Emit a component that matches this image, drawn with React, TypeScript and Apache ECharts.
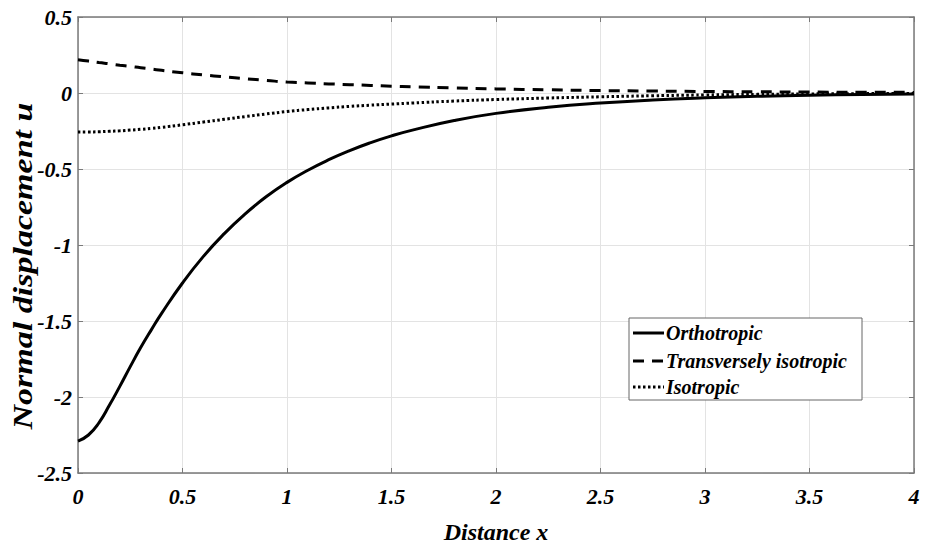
import React, { useEffect, useRef } from "react";
import * as echarts from "echarts";

const xs = [0, 0.05, 0.1, 0.15, 0.2, 0.25, 0.3, 0.35, 0.4, 0.5, 0.6, 0.7, 0.8, 0.9, 1.0, 1.1, 1.2, 1.3, 1.4, 1.5, 1.6, 1.8, 2.0, 2.25, 2.5, 2.75, 3.0, 3.25, 3.5, 3.75, 4.0];
const orthotropic = [-2.29, -2.25, -2.17, -2.055, -1.93, -1.8, -1.675, -1.56, -1.45, -1.25, -1.075, -0.925, -0.795, -0.683, -0.588, -0.508, -0.439, -0.379, -0.327, -0.282, -0.244, -0.181, -0.134, -0.094, -0.066, -0.046, -0.032, -0.022, -0.015, -0.01, -0.007];
const transverse = [0.219, 0.21, 0.2, 0.192, 0.183, 0.175, 0.166, 0.158, 0.149, 0.133, 0.119, 0.106, 0.094, 0.083, 0.072, 0.066, 0.06, 0.055, 0.05, 0.045, 0.041, 0.033, 0.027, 0.021, 0.016, 0.013, 0.01, 0.008, 0.006, 0.005, 0.004];
const isotropic = [-0.256, -0.256, -0.255, -0.252, -0.249, -0.244, -0.239, -0.233, -0.226, -0.209, -0.191, -0.173, -0.155, -0.138, -0.122, -0.109, -0.098, -0.088, -0.08, -0.073, -0.066, -0.053, -0.043, -0.033, -0.025, -0.018, -0.013, -0.009, -0.006, -0.004, -0.003];
const seriesNames = ["Orthotropic", "Transversely isotropic", "Isotropic"];
const yAxisTitle = "Normal displacement u";
const xAxisTitle = "Distance x";

const FONT = "'Liberation Serif', 'Times New Roman', Times, serif";

export default function App() {
  const ref = useRef<HTMLDivElement>(null);
  useEffect(() => {
    if (!ref.current) return;
    const chart = echarts.init(ref.current, null, { renderer: "svg" });
    const pair = (ys: number[]) => xs.map((x, i) => [x, ys[i]]);
    const labelStyle = {
      fontFamily: FONT,
      fontWeight: "bold" as const,
      fontStyle: "italic" as const,
      color: "#000",
      fontSize: 22,
    };
    const axisLine = { show: true, onZero: false, lineStyle: { color: "#7a7a7a", width: 1.5 } };
    const tick = { show: true, inside: true, length: 5, lineStyle: { color: "#7a7a7a", width: 1 } };
    const split = { show: true, lineStyle: { color: "#e3e3e3", width: 1 } };
    const dashes: (number[] | null)[] = [null, [11, 8], [2.5, 2.5]];
    const legendX = 629;
    const legendY = 318;
    const rowYs = [333, 361, 387];
    const legendGraphics: any[] = [
      {
        type: "rect",
        shape: { x: legendX, y: legendY, width: 233, height: 82 },
        style: { fill: "#fff", stroke: "#666", lineWidth: 1 },
        z: 100,
      },
    ];
    seriesNames.forEach((n, i) => {
      legendGraphics.push({
        type: "line",
        shape: { x1: 633, y1: rowYs[i], x2: 664, y2: rowYs[i] },
        style: { stroke: "#000", lineWidth: 3, lineDash: dashes[i] || undefined },
        z: 101,
      });
      legendGraphics.push({
        type: "text",
        x: 666,
        y: rowYs[i],
        style: {
          text: n,
          fontFamily: FONT,
          fontWeight: "bold",
          fontStyle: "italic",
          fontSize: 20,
          fill: "#000",
          textAlign: "left",
          textVerticalAlign: "middle",
        },
        z: 101,
      });
    });
    chart.setOption({
      animation: false,
      backgroundColor: "#fff",
      grid: { left: 78, right: 21, top: 17, bottom: 69, containLabel: false },
      graphic: [
        ...legendGraphics,
        {
          type: "text",
          x: 23,
          y: 266,
          rotation: Math.PI / 2,
          scaleX: 1.26,
          style: {
            text: yAxisTitle,
            fontFamily: FONT,
            fontWeight: "bold",
            fontStyle: "italic",
            fontSize: 27,
            fill: "#000",
            textAlign: "center",
            textVerticalAlign: "middle",
          },
        },
      ],
      xAxis: [
        {
          type: "value",
          min: 0,
          max: 4,
          interval: 0.5,
          name: xAxisTitle,
          nameLocation: "middle",
          nameGap: 47,
          nameTextStyle: { ...labelStyle, fontSize: 24 },
          axisLine,
          axisTick: tick,
          splitLine: split,
          axisLabel: { ...labelStyle, margin: 12 },
        },
        {
          type: "value",
          position: "top",
          min: 0,
          max: 4,
          interval: 0.5,
          axisLine,
          axisTick: tick,
          splitLine: { show: false },
          axisLabel: { show: false },
        },
      ],
      yAxis: [
        {
          type: "value",
          min: -2.5,
          max: 0.5,
          interval: 0.5,
          axisLine,
          axisTick: tick,
          splitLine: split,
          axisLabel: { ...labelStyle, margin: 6 },
        },
        {
          type: "value",
          position: "right",
          min: -2.5,
          max: 0.5,
          interval: 0.5,
          axisLine,
          axisTick: tick,
          splitLine: { show: false },
          axisLabel: { show: false },
        },
      ],
      series: seriesNames.map((n, i) => ({
        name: n,
        type: "line",
        data: pair([orthotropic, transverse, isotropic][i]),
        smooth: 0.5,
        showSymbol: false,
        symbol: "none",
        lineStyle: { color: "#000", width: 3, type: dashes[i] || "solid" },
        itemStyle: { color: "#000" },
        z: 3 + i,
      })),
    });
    return () => chart.dispose();
  }, []);
  return (
    <div
      ref={ref}
      style={{ position: "absolute", left: 0, top: 0, width: 935, height: 549, background: "#fff" }}
    />
  );
}
